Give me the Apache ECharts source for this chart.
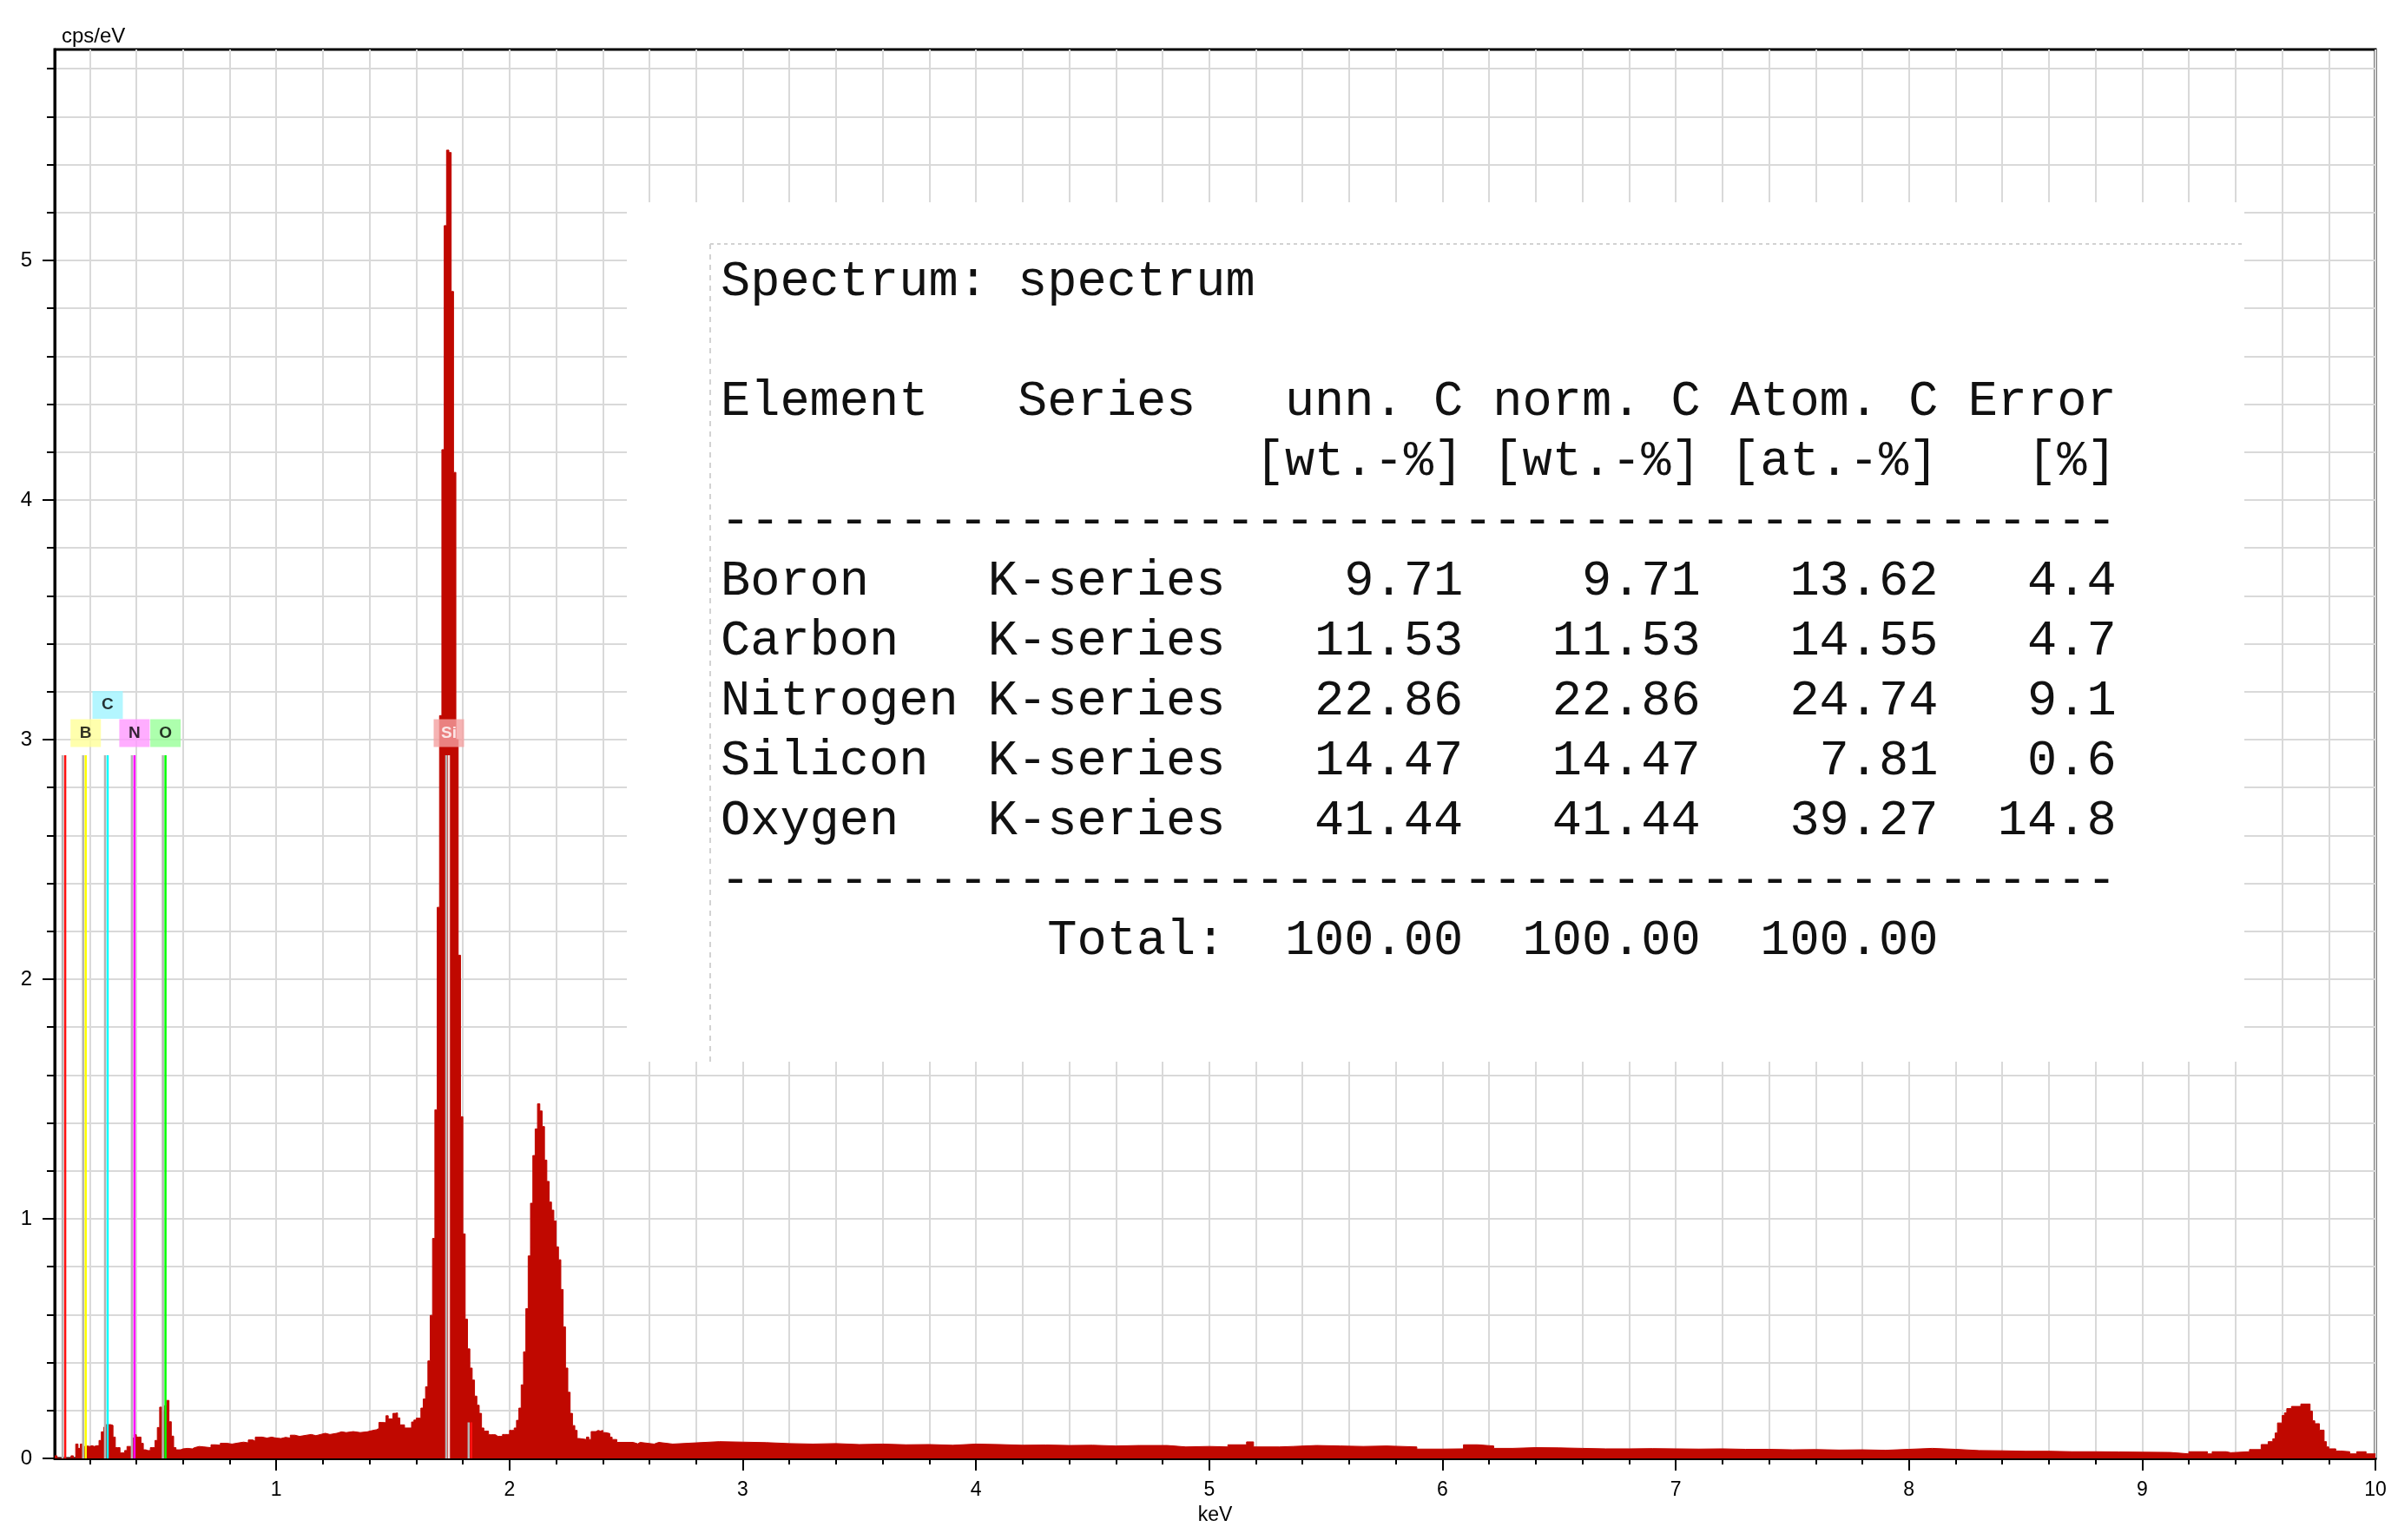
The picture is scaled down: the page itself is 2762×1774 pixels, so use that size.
<!DOCTYPE html>
<html>
<head>
<meta charset="utf-8">
<script src="https://cdn.jsdelivr.net/npm/echarts@6/dist/echarts.min.js"></script>
<style>
html,body{margin:0;padding:0;background:#fff;}
#chart{width:2762px;height:1774px;}
</style>
</head>
<body>
<div id="chart"></div>
<script>
// ---------- axis ticks / labels ----------
const xTickLabels = [1, 2, 3, 4, 5, 6, 7, 8, 9, 10];
const yTickLabels = [0, 1, 2, 3, 4, 5];
const xMinorTicks = [];
for (let i = 1; i <= 50; i++) xMinorTicks.push(+(i * 0.2).toFixed(1));
const yMinorTicks = [];
for (let i = 0; i <= 29; i++) yMinorTicks.push(+(i * 0.2).toFixed(1));

// ---------- spectrum (keV, cps/eV) ----------
const lowEnergyRegion = [
  [0.05,0.011],[0.06,0],[0.12,0.011],[0.13,0],[0.14,0.06],[0.15,0.042],[0.16,0.06],
  [0.17,0.05],[0.18,0.052],[0.19,0.05],[0.20,0.053],[0.21,0.05],[0.22,0.053],[0.23,0.053],
  [0.24,0.075],[0.25,0.111],[0.26,0.13],[0.27,0.141],[0.28,0.141],[0.29,0.138],[0.30,0.089],
  [0.31,0.045],[0.32,0.045],[0.33,0.023],[0.34,0.023],[0.35,0.033],[0.36,0.05],[0.37,0.05],
  [0.38,0.085],[0.39,0.099],[0.40,0.089],[0.41,0.089],[0.42,0.063],[0.43,0.036],[0.44,0.033],
  [0.45,0.033],[0.46,0.045],[0.47,0.045],[0.48,0.075],[0.49,0.129],[0.50,0.214],[0.51,0.2],
  [0.52,0.22],[0.53,0.242],[0.54,0.153],[0.55,0.093],[0.56,0.045],[0.57,0.036],[0.58,0.036],
  [0.59,0.04],[0.60,0.042],[0.62,0.04],[0.64,0.045],[0.65,0.05],[0.67,0.048],[0.69,0.045],
  [0.72,0.057],[0.74,0.055],[0.76,0.063],[0.79,0.06],[0.81,0.065],[0.84,0.068],[0.86,0.065],
  [0.88,0.077],[0.90,0.072],[0.91,0.089],[0.94,0.085],[0.96,0.089],[0.98,0.085],[1.00,0.083],
  [1.02,0.088],[1.04,0.085],[1.06,0.097],[1.08,0.092],[1.10,0.097],[1.13,0.1],[1.15,0.095],
  [1.17,0.1],[1.19,0.105],[1.21,0.1],[1.23,0.105],[1.26,0.111],[1.28,0.108],[1.30,0.112],
  [1.33,0.108],[1.36,0.111],[1.39,0.116],[1.41,0.12],[1.43,0.125],[1.44,0.15],[1.45,0.149],
  [1.47,0.178],[1.48,0.165],[1.50,0.188],[1.51,0.19],[1.52,0.169],[1.53,0.14],[1.55,0.127],
  [1.58,0.152],[1.59,0.16]
];
const siAuMRegion = [
  [1.60,0.168],[1.61,0.168],[1.62,0.21],[1.63,0.248],[1.64,0.299],[1.65,0.407],[1.66,0.597],
  [1.67,0.918],[1.68,1.455],[1.69,2.3],[1.70,3.1],[1.71,4.21],[1.72,5.145],[1.73,5.46],
  [1.74,5.45],[1.75,4.87],[1.76,4.115],[1.77,3.0],[1.78,2.1],[1.79,1.426],[1.80,0.937],
  [1.81,0.581],[1.82,0.457],[1.83,0.377],[1.84,0.327],[1.85,0.26],[1.86,0.222],[1.87,0.188],
  [1.88,0.127],[1.89,0.114],[1.90,0.114],[1.91,0.099],[1.92,0.099],[1.93,0.099],[1.94,0.092],
  [1.95,0.092],[1.96,0.092],[1.97,0.1],[1.98,0.1],[1.99,0.1],[2.00,0.117],[2.01,0.117],
  [2.02,0.127],[2.03,0.159],[2.04,0.21],[2.05,0.307],[2.06,0.445],[2.07,0.625],[2.08,0.845],
  [2.09,1.065],[2.10,1.264],[2.11,1.375],[2.12,1.48],[2.13,1.45],[2.14,1.385],[2.15,1.245],
  [2.16,1.156],[2.17,1.07],[2.18,1.036],[2.19,0.991],[2.20,0.883],[2.21,0.829],[2.22,0.705],
  [2.23,0.549],[2.24,0.377],[2.25,0.276],[2.26,0.188],[2.27,0.137],[2.28,0.117],[2.29,0.083],
  [2.30,0.079],[2.33,0.089],[2.34,0.079],[2.35,0.112],[2.37,0.117],[2.38,0.114],[2.39,0.117],
  [2.40,0.108],[2.41,0.104],[2.43,0.089],[2.44,0.079],[2.46,0.067],[2.53,0.061],[2.55,0.067],
  [2.56,0.06],[2.62,0.067]
];
const backgroundRegion = [
  [2.64,0.06],[2.7,0.065],[2.8,0.07],[2.9,0.068],[3.0,0.066],[3.1,0.062],[3.2,0.06],[3.3,0.062],
  [3.4,0.058],[3.5,0.06],[3.6,0.057],[3.7,0.058],[3.8,0.055],[3.9,0.06],[4.0,0.058],[4.1,0.055],
  [4.2,0.056],[4.3,0.054],[4.4,0.055],[4.5,0.052],[4.6,0.054],[4.7,0.054],[4.82,0.048],[4.9,0.05],
  [5.0,0.048],[5.08,0.057],[5.16,0.069],[5.19,0.048],[5.3,0.05],[5.36,0.054],[5.46,0.052],
  [5.56,0.05],[5.66,0.052],[5.76,0.048],[5.89,0.039],[6.0,0.04],[6.09,0.057],[6.15,0.052],
  [6.22,0.042],[6.3,0.045],[6.4,0.044],[6.5,0.042],[6.6,0.04],[6.7,0.04],[6.8,0.041],[6.9,0.04],
  [7.0,0.039],[7.1,0.04],[7.2,0.038],[7.3,0.038],[7.4,0.036],[7.5,0.037],[7.6,0.035],[7.7,0.036],
  [7.8,0.034],[7.9,0.038],[8.0,0.042],[8.1,0.038],[8.2,0.033],[8.3,0.032],[8.4,0.03],[8.5,0.03],
  [8.6,0.028],[8.7,0.028],[8.8,0.027],[8.9,0.026],[9.0,0.025]
];
const auLRegion = [
  [9.12,0.019],[9.20,0.028],[9.28,0.019],[9.30,0.028],[9.36,0.024],[9.38,0.028],[9.46,0.037],
  [9.51,0.058],[9.54,0.07],[9.56,0.082],[9.57,0.106],[9.58,0.148],[9.60,0.179],[9.61,0.19],
  [9.62,0.208],[9.64,0.217],[9.68,0.227],[9.72,0.197],[9.73,0.157],[9.74,0.145],[9.76,0.118],
  [9.78,0.07],[9.79,0.048],[9.80,0.04],[9.83,0.031],[9.85,0.028],[9.89,0.019],[9.92,0.028],
  [9.96,0.019],[10.0,0.019]
];

// ---------- element marker lines ----------
const markerEnergies = [0.095, 0.183, 0.277, 0.392, 0.525, 1.740, 1.836];
const markerColors   = ['#ff1010', '#ffff00', '#00ffff', '#ff00ff', '#00ff00', '#f6dede', '#ff1010'];
const markerTops     = [2.935, 2.935, 2.935, 2.935, 2.935, 2.935, 0.15];

const labelNames    = ['B', 'C', 'N', 'O', 'Si'];
const labelEnergies = [0.183, 0.277, 0.392, 0.525, 1.740];
const labelLevels   = [3.027, 3.145, 3.027, 3.027, 3.027];
const labelFills    = ['#ffff99', '#a0f4ff', '#ff99ff', '#99ff99', '#f4a0a0'];
const labelTextCols = ['#000', '#000', '#000', '#000', '#ffffff'];

// ---------- quantification table ----------
const spectrumName = 'spectrum';
const elements = ['Boron', 'Carbon', 'Nitrogen', 'Silicon', 'Oxygen'];
const lineSeries = ['K-series', 'K-series', 'K-series', 'K-series', 'K-series'];
const unnC  = [9.71, 11.53, 22.86, 14.47, 41.44];
const normC = [9.71, 11.53, 22.86, 14.47, 41.44];
const atomC = [13.62, 14.55, 24.74, 7.81, 39.27];
const errPct = [4.4, 4.7, 9.1, 0.6, 14.8];
const totals = [100.00, 100.00, 100.00];

// ---------- build ----------
const spectrumData = lowEnergyRegion.concat(siAuMRegion, backgroundRegion, auLRegion);

const tableLines = [];
tableLines.push([0, 'Spectrum: ' + spectrumName]);
tableLines.push([2, 'Element   Series   unn. C norm. C Atom. C Error']);
tableLines.push([3, ' '.repeat(18) + '[wt.-%] [wt.-%] [at.-%]   [%]']);
tableLines.push([4, '-'.repeat(47)]);
elements.forEach((el, i) => {
  const s = el.padEnd(9) + lineSeries[i] +
    unnC[i].toFixed(2).padStart(8) + normC[i].toFixed(2).padStart(8) +
    atomC[i].toFixed(2).padStart(8) + errPct[i].toFixed(1).padStart(6);
  tableLines.push([5 + i, s]);
});
tableLines.push([10, '-'.repeat(47)]);
tableLines.push([11, ' '.repeat(11) + 'Total:' + totals.map(t => t.toFixed(2).padStart(8)).join('')]);

const tableFont = '57px "Liberation Mono", "DejaVu Sans Mono", monospace';
const graphicEls = [
  { type: 'rect', z: 1, silent: true, shape: { x: 722, y: 233, width: 1863, height: 990 }, style: { fill: '#ffffff' } },
  { type: 'line', z: 2, silent: true, shape: { x1: 818, y1: 281, x2: 2585, y2: 281 }, style: { stroke: '#d2d2d2', lineWidth: 2, lineDash: [4, 4] } },
  { type: 'line', z: 2, silent: true, shape: { x1: 818, y1: 281, x2: 818, y2: 1223 }, style: { stroke: '#d2d2d2', lineWidth: 2, lineDash: [6, 6] } }
];
tableLines.forEach(([row, txt]) => {
  graphicEls.push({
    type: 'text', z: 3, silent: true,
    style: { text: txt, x: 830, y: 337 + 69 * row - 12, font: tableFont, fill: '#111', verticalAlign: 'middle', align: 'left' }
  });
});

const series = [{
  type: 'line', name: 'spectrum', data: spectrumData, step: 'end', symbol: 'none', silent: true,
  lineStyle: { color: '#c00800', width: 1 }, areaStyle: { color: '#c00800', opacity: 1 }, z: 2
}];
markerEnergies.forEach((e, i) => {
  series.push({
    type: 'line', data: [[e, 0], [e, markerTops[i]]], symbol: 'none', silent: true, z: 4,
    lineStyle: { color: markerColors[i], width: 2.5, shadowColor: '#b4b4b4', shadowOffsetX: -3, shadowBlur: 0 }
  });
});
series.push({
  type: 'scatter', symbol: 'rect', symbolSize: [35, 32], silent: true, z: 5,
  data: labelNames.map((n, i) => ({
    name: n, value: [labelEnergies[i], labelLevels[i]],
    itemStyle: { color: labelFills[i] },
    label: { color: labelTextCols[i] }
  })),
  label: { show: true, position: 'inside', formatter: p => p.name, fontFamily: 'Liberation Sans', fontWeight: 'bold', fontSize: 19 }
});

const axisFont = 'Liberation Sans';
const option = {
  animation: false,
  backgroundColor: '#ffffff',
  grid: { left: 63, right: 26, top: 57, bottom: 94, show: true, borderColor: '#000', borderWidth: 3, backgroundColor: '#fff', containLabel: false, outerBoundsMode: 'none' },
  xAxis: [
    {
      type: 'value', min: 0.05, max: 10, position: 'bottom',
      name: 'keV', nameLocation: 'middle', nameGap: 54,
      nameTextStyle: { fontFamily: axisFont, fontSize: 23, color: '#000' },
      axisLine: { show: true, onZero: false, lineStyle: { color: '#000', width: 3 } },
      axisTick: { show: true, customValues: xMinorTicks, length: 7, lineStyle: { color: '#000', width: 2 } },
      axisLabel: { show: true, customValues: xTickLabels, margin: 25, fontFamily: axisFont, fontSize: 23, color: '#000' },
      splitLine: { show: true, lineStyle: { color: '#d9d9d9', width: 2 } }
    },
    {
      type: 'value', min: 0.05, max: 10, position: 'bottom', offset: 0,
      axisLine: { show: false },
      axisTick: { show: true, customValues: xTickLabels, length: 14, lineStyle: { color: '#000', width: 2 } },
      axisLabel: { show: false }, splitLine: { show: false }
    }
  ],
  yAxis: [
    {
      type: 'value', min: 0, max: 5.88, position: 'left',
      name: 'cps/eV', nameLocation: 'end', nameGap: 15,
      nameTextStyle: { fontFamily: axisFont, fontSize: 24, color: '#000', align: 'left', verticalAlign: 'middle', padding: [0, 0, 0, 8] },
      axisLine: { show: true, onZero: false, lineStyle: { color: '#000', width: 3 } },
      axisTick: { show: true, customValues: yMinorTicks, length: 9, lineStyle: { color: '#000', width: 2 } },
      axisLabel: { show: true, customValues: yTickLabels, margin: 26, fontFamily: axisFont, fontSize: 24, color: '#000' },
      splitLine: { show: true, lineStyle: { color: '#d9d9d9', width: 2 } }
    },
    {
      type: 'value', min: 0, max: 5.88, position: 'left', offset: 0,
      axisLine: { show: false },
      axisTick: { show: true, customValues: yTickLabels, length: 14, lineStyle: { color: '#000', width: 2 } },
      axisLabel: { show: false }, splitLine: { show: false }
    }
  ],
  graphic: { elements: graphicEls },
  series: series
};

const chart = echarts.init(document.getElementById('chart'), null, { renderer: 'canvas' });
chart.setOption(option);
</script>
</body>
</html>
